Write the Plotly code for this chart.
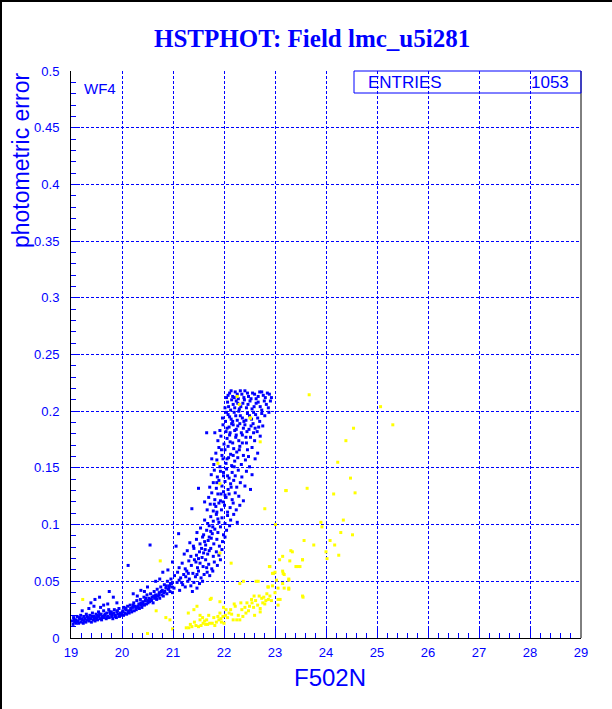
import plotly.graph_objects as go

# ---- data ----
blue_tail = [
    (19.02,.015),(19.04,.012),(19.05,.018),(19.07,.014),(19.09,.016),(19.10,.013),(19.12,.019),(19.14,.015),
    (19.15,.013),(19.17,.017),(19.19,.020),(19.20,.014),(19.22,.016),(19.24,.013),(19.25,.019),(19.27,.017),
    (19.29,.014),(19.30,.021),(19.32,.016),(19.34,.018),(19.35,.015),(19.37,.020),(19.39,.017),(19.40,.014),
    (19.42,.022),(19.44,.016),(19.45,.019),(19.47,.015),(19.49,.021),(19.50,.018),(19.52,.016),(19.54,.023),
    (19.55,.019),(19.57,.017),(19.59,.021),(19.60,.016),(19.62,.019),(19.64,.024),(19.65,.018),(19.67,.021),
    (19.69,.017),(19.70,.022),(19.72,.019),(19.74,.025),(19.75,.018),(19.77,.021),(19.79,.023),(19.80,.019),
    (19.82,.017),(19.84,.022),(19.85,.025),(19.87,.020),(19.89,.018),(19.90,.023),(19.92,.021),(19.94,.026),
    (19.95,.019),(19.97,.022),(19.99,.020),
    (19.06,.016),(19.11,.015),(19.16,.018),(19.21,.017),(19.26,.015),(19.31,.019),(19.36,.017),(19.41,.019),
    (19.46,.017),(19.51,.020),(19.56,.021),(19.61,.018),(19.66,.020),(19.71,.018),(19.76,.023),(19.81,.021),
    (19.86,.019),(19.91,.024),(19.96,.021),
    (19.47,.034),(19.56,.036),(19.39,.031),(19.75,.041),(19.83,.036),(19.45,.028),(19.72,.030),(19.58,.027),
    (19.64,.029),(19.90,.031),(19.35,.026),(19.22,.024),
]
blue_mid = [
    (20.01,.023),(20.03,.020),(20.04,.027),(20.06,.022),(20.08,.025),(20.09,.021),(20.11,.028),(20.13,.024),
    (20.14,.022),(20.16,.029),(20.18,.025),(20.19,.023),(20.21,.027),(20.23,.031),(20.24,.024),(20.26,.028),
    (20.28,.025),(20.29,.033),(20.31,.027),(20.33,.030),(20.34,.026),(20.36,.034),(20.38,.029),(20.39,.027),
    (20.41,.032),(20.43,.036),(20.44,.029),(20.46,.033),(20.48,.030),(20.49,.038),(20.51,.031),(20.53,.035),
    (20.54,.032),(20.56,.039),(20.58,.033),(20.59,.036),(20.61,.031),(20.63,.041),(20.64,.035),(20.66,.038),
    (20.68,.034),(20.69,.043),(20.71,.037),(20.73,.040),(20.74,.035),(20.76,.045),(20.78,.038),(20.79,.042),
    (20.81,.037),(20.83,.047),(20.84,.041),(20.86,.044),(20.88,.039),(20.89,.050),(20.91,.043),(20.93,.046),
    (20.94,.041),(20.96,.052),(20.98,.045),(20.99,.040),
    (20.02,.024),(20.07,.026),(20.12,.023),(20.17,.026),(20.22,.029),(20.27,.027),(20.32,.028),(20.37,.031),
    (20.42,.030),(20.47,.035),(20.52,.033),(20.57,.034),(20.62,.037),(20.67,.036),(20.72,.038),(20.77,.041),
    (20.82,.040),(20.87,.046),(20.92,.044),(20.97,.048),
    (20.12,.064),(20.55,.082),(20.50,.045),(20.37,.042),(20.80,.058),(20.99,.067),(21.06,.081),(21.11,.092),
    (20.22,.039),(20.66,.050),(20.90,.060),(20.44,.041),(20.74,.052),(20.30,.037),
]
blue_band = [
    (20.95,.048),(21.02,.044),(21.08,.049),(21.13,.042),(21.19,.047),(21.24,.045),(21.29,.050),(21.35,.046),
    (21.41,.049),(21.47,.044),(21.52,.048),(21.58,.050),(21.12,.051),(21.38,.041),
    (21.03,.055),(21.09,.058),(21.15,.053),(21.21,.056),(21.27,.059),(21.32,.052),(21.39,.057),(21.44,.054),
    (21.50,.059),(21.55,.053),(21.61,.056),(21.67,.058),(21.72,.055),(21.78,.059),(21.25,.054),(21.47,.056),
    (21.12,.062),(21.18,.066),(21.24,.061),(21.31,.068),(21.36,.064),(21.42,.069),(21.48,.062),(21.53,.066),
    (21.59,.063),(21.64,.069),(21.70,.065),(21.76,.061),(21.81,.067),(21.87,.064),(21.93,.069),(21.45,.067),
    (21.66,.062),
    (21.22,.074),(21.28,.077),(21.35,.072),(21.41,.079),(21.46,.073),(21.52,.076),(21.57,.071),(21.63,.078),
    (21.68,.074),(21.74,.079),(21.79,.072),(21.85,.076),(21.90,.073),(21.96,.078),(21.60,.075),(21.71,.077),
    (21.33,.084),(21.40,.081),(21.46,.087),(21.53,.083),(21.58,.089),(21.64,.082),(21.69,.086),(21.75,.088),
    (21.80,.083),(21.86,.087),(21.91,.081),(21.97,.085),(22.02,.089),(21.62,.085),
    (21.47,.093),(21.54,.097),(21.60,.091),(21.66,.095),(21.71,.099),(21.77,.092),(21.82,.096),(21.88,.093),
    (21.93,.098),(21.99,.091),(22.05,.095),(22.11,.099),(21.74,.094),
    (21.62,.104),(21.68,.101),(21.74,.107),(21.79,.103),(21.85,.109),(21.90,.102),(21.96,.106),(22.02,.101),
    (22.07,.108),(22.13,.104),(22.19,.109),(22.26,.102),(21.88,.105),
    (21.67,.113),(21.73,.118),(21.79,.112),(21.84,.116),(21.90,.119),(21.95,.113),(22.01,.117),(22.07,.111),
    (22.12,.115),(22.18,.119),(22.24,.113),(22.31,.117),(21.98,.120),
    (21.70,.124),(21.76,.128),(21.82,.122),(21.88,.127),(21.93,.121),(21.99,.129),(22.04,.124),(22.10,.127),
    (22.16,.122),(22.22,.128),(22.29,.125),(22.38,.121),(22.02,.126),
    (21.72,.133),(21.79,.137),(21.85,.132),(21.90,.139),(21.96,.134),(22.02,.138),(22.08,.131),(22.13,.136),
    (22.19,.139),(22.25,.133),(22.32,.137),(22.41,.134),(22.52,.131),
    (21.75,.144),(21.81,.148),(21.87,.142),(21.93,.147),(21.99,.143),(22.05,.149),(22.10,.141),(22.16,.146),
    (22.22,.143),(22.28,.148),(22.35,.142),(22.44,.147),(22.55,.144),
    (21.66,.181),(21.82,.181),(21.50,.132),(21.37,.114),(21.76,.158),(21.62,.120),
    (21.99,.146),(22.07,.143),(22.14,.133),(22.20,.151),(21.86,.137),(21.94,.127),(21.81,.118),(21.86,.111),
    (21.78,.098),(21.71,.089),(21.56,.079),(21.50,.070),(21.30,.057),(21.17,.049),
]
blue_top = [
    (21.80,.153),(21.86,.157),(21.92,.151),(21.98,.158),(22.04,.154),(22.09,.159),(22.15,.152),(22.21,.156),
    (22.27,.159),(22.34,.153),(22.42,.157),(22.50,.151),(22.61,.158),
    (21.84,.163),(21.90,.168),(21.96,.161),(22.02,.166),(22.08,.169),(22.13,.162),(22.19,.167),(22.25,.164),
    (22.31,.169),(22.38,.161),(22.46,.166),(22.55,.168),(22.66,.163),
    (21.88,.174),(21.94,.178),(22.00,.171),(22.06,.176),(22.11,.179),(22.17,.172),(22.23,.177),(22.29,.174),
    (22.36,.179),(22.44,.172),(22.52,.177),(22.60,.174),(22.71,.178),
    (21.92,.183),(21.98,.188),(22.04,.182),(22.10,.186),(22.15,.189),(22.21,.183),(22.27,.187),(22.34,.181),
    (22.41,.188),(22.49,.184),(22.57,.189),(22.65,.182),(22.76,.187),
    (21.97,.194),(22.03,.191),(22.08,.197),(22.14,.193),(22.20,.199),(22.26,.192),(22.32,.196),(22.39,.191),
    (22.46,.198),(22.54,.193),(22.62,.197),(22.70,.191),(22.80,.196),(22.88,.199),
    (22.02,.203),(22.07,.208),(22.13,.201),(22.18,.206),(22.24,.209),(22.30,.202),(22.37,.207),(22.44,.203),
    (22.51,.209),(22.59,.204),(22.67,.208),(22.74,.201),(22.83,.206),(22.91,.209),
    (22.05,.212),(22.11,.216),(22.17,.213),(22.22,.217),(22.28,.211),(22.35,.215),(22.41,.218),(22.48,.213),
    (22.56,.216),(22.63,.211),(22.70,.217),(22.77,.214),(22.85,.216),(22.93,.212),
    (22.06,.185),(22.12,.181),(22.18,.188),(22.24,.184),(22.31,.189),(22.38,.185),(22.45,.182),(22.53,.187),
    (22.61,.185),
    (22.05,.199),(22.11,.195),(22.17,.191),(22.23,.196),(22.29,.200),(22.36,.194),(22.43,.192),(22.50,.196),
    (22.58,.199),(22.66,.194),(22.74,.198),
    (22.09,.204),(22.15,.210),(22.21,.203),(22.27,.207),(22.33,.204),(22.40,.210),(22.47,.206),(22.55,.202),
    (22.63,.207),(22.71,.204),(22.79,.209),(22.87,.203),
    (22.08,.214),(22.14,.218),(22.20,.212),(22.26,.215),(22.32,.218),(22.39,.212),(22.46,.216),(22.53,.211),
    (22.60,.215),(22.67,.213),(22.74,.217),(22.81,.212),(22.89,.215),
    (21.95,.166),(22.06,.158),(22.12,.173),(22.18,.161),(22.24,.179),(22.30,.166),(22.36,.172),(22.43,.177),
    (22.48,.160),(22.58,.181),(22.68,.186),
]
yellow_pts = [
    (23.67,.2145),(25.07,.204),(25.31,.188),(24.54,.185),(24.39,.174),(24.23,.155),(24.48,.141),
    (23.22,.130),(23.63,.132),(24.15,.127),(24.57,.128),(22.80,.114),(22.51,.194),(22.71,.173),
    (24.34,.104),(23.90,.102),(23.92,.098),(23.01,.100),(24.29,.093),(24.52,.091),(23.57,.086),
    (24.08,.086),(23.76,.082),(24.17,.082),(23.31,.077),(24.00,.076),(24.25,.073),(23.15,.072),
    (23.09,.069),(23.29,.068),(23.54,.069),(24.02,.070),(22.90,.063),(23.41,.063),(23.46,.063),
    (23.15,.059),(22.95,.057),(23.18,.056),(23.27,.052),(22.63,.050),(23.15,.048),(22.86,.045),
    (23.18,.044),(23.27,.044),(22.95,.046),(23.55,.036),(22.59,.037),(22.74,.035),(22.78,.036),
    (22.82,.033),(22.80,.030),(23.06,.034),(22.55,.031),(22.71,.023),(23.06,.029),
    (20.75,.068),(19.23,.034),(20.67,.024),(20.86,.018),(20.94,.016),(20.50,.004),(20.99,.008),
    (21.26,.009),(21.31,.009),(21.37,.010),(21.45,.011),(21.50,.010),(21.55,.011),(21.59,.013),
    (21.64,.012),(21.68,.012),(21.72,.013),(21.77,.013),(21.85,.014),(21.90,.016),(21.94,.017),
    (21.98,.019),(21.95,.014),(21.41,.025),(21.47,.028),(21.53,.016),(21.53,.020),(21.30,.022),
    (21.75,.035),(21.92,.032),(21.99,.027),(22.03,.020),(21.92,.022),(22.04,.025),(22.13,.025),
    (22.18,.016),(22.25,.016),(22.31,.016),(22.37,.019),(22.41,.027),(22.35,.025),(22.45,.031),
    (22.48,.024),(22.54,.034),(22.58,.027),(22.69,.037),(22.71,.026),(22.87,.034),(22.90,.037),
    (22.87,.045),(23.10,.034),(22.97,.057),(23.16,.057),(23.27,.051),(23.27,.043),(23.43,.063),
    (23.49,.063),(23.34,.076),(23.54,.069),(22.89,.063),(23.00,.058),(22.14,.066),(21.92,.075),
    (21.73,.034),(22.67,.050),(22.38,.050),(22.31,.048),(23.54,.037),(23.06,.044),(23.03,.051),
    (22.26,.213),(22.30,.206),(22.52,.194),(23.21,.130),(21.92,.136),(21.88,.154),(22.10,.022),
    (22.20,.030),(22.60,.020),(21.80,.018),(21.62,.015),
    (21.34,.012),(21.42,.014),(21.58,.018),(21.66,.016),(21.70,.020),(21.82,.011),(21.88,.019),
    (22.00,.013),(22.07,.018),(22.15,.021),(22.22,.028),(22.28,.020),(22.33,.031),(22.43,.022),
    (22.50,.028),(22.62,.033),(22.66,.029),(22.76,.031),(22.84,.039),(22.93,.033),(23.00,.040),
]

x_ticks = [19, 20, 21, 22, 23, 24, 25, 26, 27, 28, 29]
y_ticks = [0, 0.05, 0.1, 0.15, 0.2, 0.25, 0.3, 0.35, 0.4, 0.45, 0.5]
y_tick_text = ["0", "0.05", "0.1", "0.15", "0.2", "0.25", "0.3", "0.35", "0.4", "0.45", "0.5"]
title_text = "HSTPHOT: Field lmc_u5i281"
x_title = "F502N"
y_title = "photometric error"
entries_label = "ENTRIES"
entries_value = "1053"
chip_label = "WF4"

blue_all = blue_tail + blue_mid + blue_band + blue_top
bx = [p[0] for p in blue_all]
by = [p[1] for p in blue_all]
yx = [p[0] for p in yellow_pts]
yy = [p[1] for p in yellow_pts]

BLUE = "rgb(0,0,255)"
YELLOW = "rgb(255,255,0)"
FONT = "Liberation Sans, Arial, sans-serif"

fig = go.Figure()
fig.add_trace(go.Scatter(x=bx, y=by, mode="markers",
                         marker=dict(symbol="square", size=3, color=BLUE, line=dict(width=0)),
                         showlegend=False, hoverinfo="skip"))
fig.add_trace(go.Scatter(x=yx, y=yy, mode="markers",
                         marker=dict(symbol="square", size=3, color=YELLOW, line=dict(width=0)),
                         showlegend=False, hoverinfo="skip"))

L, R, T, B = 71, 31, 71, 71
W, H = 612, 709
pw, ph = W - L - R, H - T - B

def px(xpix):
    return (xpix - L) / pw

def py(ypix):
    return (H - B - ypix) / ph

fig.update_layout(
    width=W, height=H,
    margin=dict(l=L, r=R, t=T, b=B, pad=0),
    paper_bgcolor="white", plot_bgcolor="white",
    font=dict(family=FONT, color=BLUE, size=12),
    xaxis=dict(range=[19, 29], tickvals=x_ticks, ticktext=[str(v) for v in x_ticks],
               ticks="inside", ticklen=9, tickcolor=BLUE, tickwidth=1,
               minor=dict(dtick=0.2, ticks="inside", ticklen=5, tickcolor=BLUE, tickwidth=1, showgrid=False),
               showgrid=True, gridcolor=BLUE, gridwidth=1, griddash="3px,2px",
               showline=True, linecolor="black", linewidth=1, mirror=False,
               zeroline=False, tickfont=dict(size=13, color=BLUE, family=FONT),
               ticklabelstandoff=2),
    yaxis=dict(range=[0, 0.5], tickvals=y_ticks, ticktext=y_tick_text,
               ticks="inside", ticklen=9, tickcolor=BLUE, tickwidth=1,
               minor=dict(dtick=0.01, ticks="inside", ticklen=5, tickcolor=BLUE, tickwidth=1, showgrid=False),
               showgrid=True, gridcolor=BLUE, gridwidth=1, griddash="3px,2px",
               showline=True, linecolor="black", linewidth=1, mirror=False,
               zeroline=False, tickfont=dict(size=13, color=BLUE, family=FONT),
               ticklabelstandoff=8),
)

shapes = [
    dict(type="line", xref="paper", yref="paper", x0=1, x1=1, y0=0, y1=1,
         line=dict(color="black", width=1)),
    dict(type="rect", xref="paper", yref="paper", x0=px(354), x1=1, y0=py(93), y1=1,
         line=dict(color=BLUE, width=1), fillcolor="rgba(0,0,0,0)"),
    dict(type="line", xref="paper", yref="paper", x0=px(1), x1=px(1), y0=py(709), y1=py(0),
         line=dict(color="black", width=2)),
    dict(type="line", xref="paper", yref="paper", x0=px(0), x1=px(612), y0=py(1), y1=py(1),
         line=dict(color="black", width=2)),
]
fig.update_layout(shapes=shapes)

annotations = [
    dict(text="<b>" + title_text + "</b>", xref="paper", yref="paper", x=px(311.5), y=py(38),
         xanchor="center", yanchor="middle", showarrow=False,
         font=dict(family="Liberation Serif, Times New Roman, serif", size=25, color=BLUE)),
    dict(text=y_title, xref="paper", yref="paper", x=px(21), y=py(161), textangle=-90,
         xanchor="center", yanchor="middle", showarrow=False,
         font=dict(family=FONT, size=23, color=BLUE)),
    dict(text=x_title, xref="paper", yref="paper", x=px(330), y=py(677),
         xanchor="center", yanchor="middle", showarrow=False,
         font=dict(family=FONT, size=24, color=BLUE)),
    dict(text=entries_label, xref="paper", yref="paper", x=px(366), y=py(82),
         xanchor="left", yanchor="middle", showarrow=False,
         font=dict(family=FONT, size=17, color=BLUE)),
    dict(text=entries_value, xref="paper", yref="paper", x=px(571), y=py(82),
         xanchor="right", yanchor="middle", showarrow=False,
         font=dict(family=FONT, size=17, color=BLUE)),
    dict(text=chip_label, xref="paper", yref="paper", x=px(82), y=py(88),
         xanchor="left", yanchor="middle", showarrow=False,
         font=dict(family=FONT, size=15, color=BLUE)),
]
fig.update_layout(annotations=annotations)

fig.write_html("out.html", config={"displayModeBar": False},
               post_script="document.body.style.margin='0';document.body.style.overflow='hidden';")
